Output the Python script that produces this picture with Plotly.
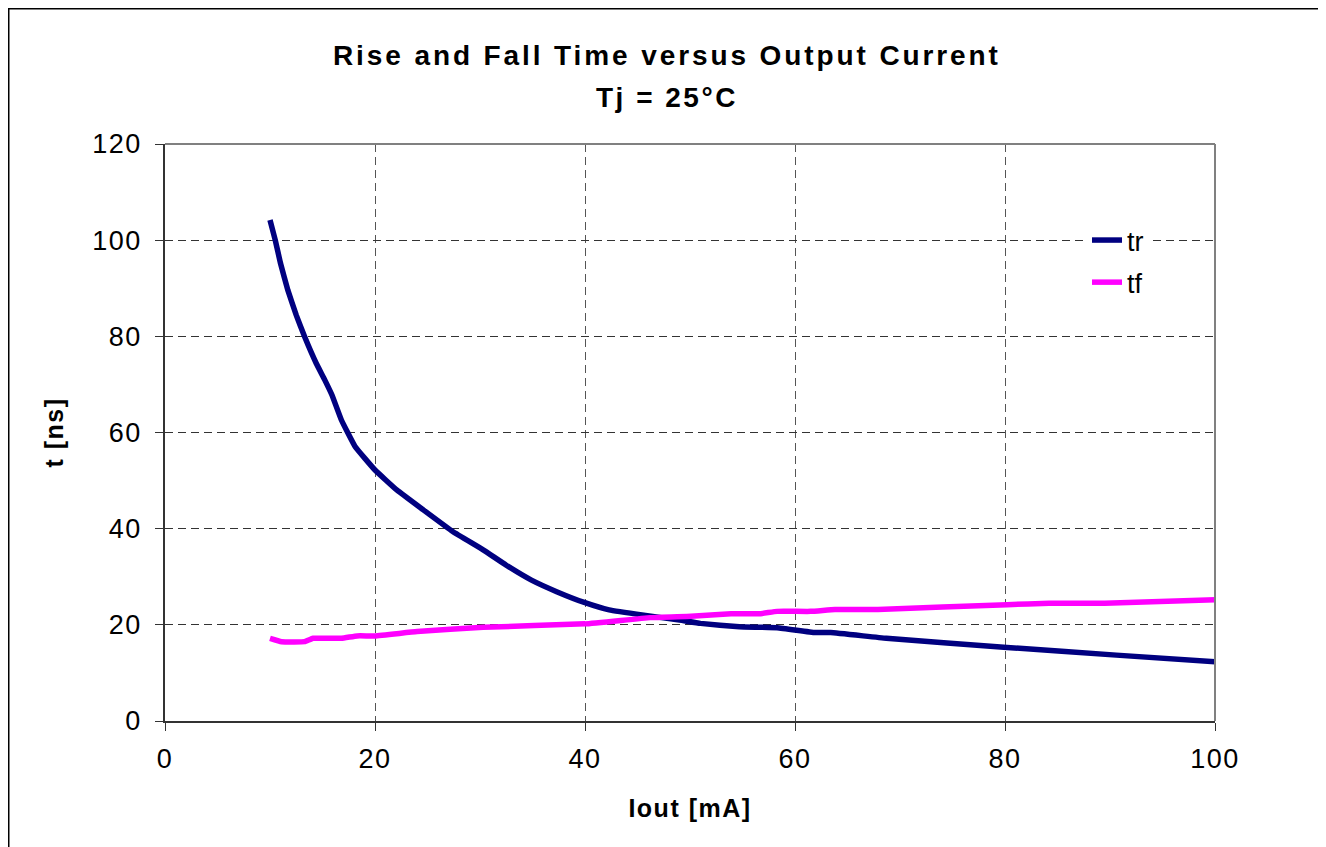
import plotly.graph_objects as go

# Data
tr_x = [10.0, 10.5, 11.0, 11.7, 12.5, 13.3, 14.4, 15.2, 15.9, 16.8, 18.1, 20.0,
        22.1, 24.6, 27.4, 30.3, 32.5, 34.9, 37.3, 40.0, 42.3, 45.6, 49.0, 51.0,
        54.7, 58.3, 61.9, 63.4, 68.7, 80.2, 90.6, 100.0]
tr_y = [104.2, 100.0, 95.2, 89.6, 84.4, 79.9, 74.4, 71.0, 67.8, 62.6, 57.1, 52.2,
        48.0, 43.9, 39.4, 35.6, 32.4, 29.3, 26.9, 24.6, 23.1, 22.0, 21.0, 20.3,
        19.6, 19.4, 18.4, 18.4, 17.2, 15.3, 13.7, 12.3]

tf_x = [10.0, 11.1, 13.3, 14.1, 16.8, 18.3, 20.0, 24.0, 30.3, 40.0, 46.2, 50.1,
        53.9, 56.6, 58.3, 61.5, 63.8, 67.9, 80.2, 84.2, 89.5, 100.0]
tf_y = [17.2, 16.5, 16.5, 17.2, 17.2, 17.7, 17.7, 18.6, 19.5, 20.2, 21.5, 21.8,
        22.3, 22.3, 22.8, 22.8, 23.2, 23.2, 24.2, 24.5, 24.5, 25.2]

x_ticks = [0, 20, 40, 60, 80, 100]
y_ticks = [0, 20, 40, 60, 80, 100, 120]

title_line1 = "Rise and Fall Time versus Output Current"
title_line2 = "Tj = 25°C"
x_title = "Iout [mA]"
y_title = "t [ns]"

FONT = "Liberation Sans, Arial, sans-serif"


def spaced(txt, px):
    return f"<span style='letter-spacing:{px}px'>{txt}</span>"


# page body has an 8px margin, so the figure is laid out in shifted coordinates
W, H = 1318, 839
PL, PR, PT, PB = 157, 1207, 136, 713  # plot area edges in figure pixels
PW, PH = PR - PL, PB - PT

fig = go.Figure()
fig.add_trace(go.Scatter(x=tr_x, y=tr_y, mode="lines", name="tr", legendgroup="tr",
                         line=dict(color="#000080", width=5.5, shape="spline", smoothing=0.3)))
fig.add_trace(go.Scatter(x=tf_x, y=tf_y, mode="lines", name="tf", legendgroup="tf",
                         line=dict(color="#FF00FF", width=5.5, shape="spline", smoothing=0.3)))

fig.update_layout(
    width=W, height=H,
    margin=dict(l=PL, r=W - PR, t=PT, b=H - PB),
    paper_bgcolor="white", plot_bgcolor="white",
    font=dict(family=FONT, color="black", size=27),
    showlegend=True,
    legend=dict(x=(1079 - PL) / PW, y=(PB - 208) / PH, xanchor="left", yanchor="top",
                bgcolor="white", borderwidth=0,
                font=dict(size=27, family=FONT), tracegroupgap=4),
    xaxis=dict(range=[0, 100], tickvals=x_ticks,
               ticktext=[spaced(str(v), 1.5) for v in x_ticks],
               showgrid=True,
               gridcolor="#555555", griddash="8px,5px", gridwidth=1,
               showline=True, linecolor="#333333", linewidth=1.5,
               ticks="outside", ticklen=8, tickcolor="#333333",
               ticklabelstandoff=5,
               zeroline=False,
               title=dict(text="<b>" + spaced(x_title, 1.5) + "</b>",
                          font=dict(size=25, family=FONT), standoff=26),
               tickfont=dict(size=27)),
    yaxis=dict(range=[0, 120], tickvals=y_ticks,
               ticktext=[spaced(str(v), 1.5) for v in y_ticks],
               showgrid=True,
               gridcolor="#333333", griddash="8px,5px", gridwidth=1,
               showline=True, linecolor="#333333", linewidth=1.5,
               ticks="outside", ticklen=8, tickcolor="#333333",
               ticklabelstandoff=8,
               zeroline=False,
               title=dict(text="<b>" + spaced(y_title, 1.5) + "</b>",
                          font=dict(size=25, family=FONT), standoff=22),
               tickfont=dict(size=27)),
)

fig.add_annotation(text="<b>" + spaced(title_line1, 2.9) + "</b>",
                   xref="paper", yref="paper",
                   x=(659 - PL) / PW, y=(PB - 48) / PH,
                   xanchor="center", yanchor="middle", showarrow=False,
                   font=dict(size=28, family=FONT))
fig.add_annotation(text="<b>" + spaced(title_line2, 2.5) + "</b>",
                   xref="paper", yref="paper",
                   x=(659 - PL) / PW, y=(PB - 89) / PH,
                   xanchor="center", yanchor="middle", showarrow=False,
                   font=dict(size=28, family=FONT))

# top and right frame of the plot area (gray)
fig.add_shape(type="line", xref="paper", yref="paper", x0=0, x1=1, y0=1, y1=1,
              line=dict(color="#808080", width=2))
fig.add_shape(type="line", xref="paper", yref="paper", x0=1, x1=1, y0=0, y1=1,
              line=dict(color="#808080", width=2))
# outer chart border
fig.add_shape(type="rect", xref="paper", yref="paper",
              x0=(0.75 - PL) / PW, x1=(1314 - PL) / PW,
              y0=(PB - 860) / PH, y1=(PB - 0.75) / PH,
              line=dict(color="black", width=1.5), layer="below")

fig.write_html("out.html")
